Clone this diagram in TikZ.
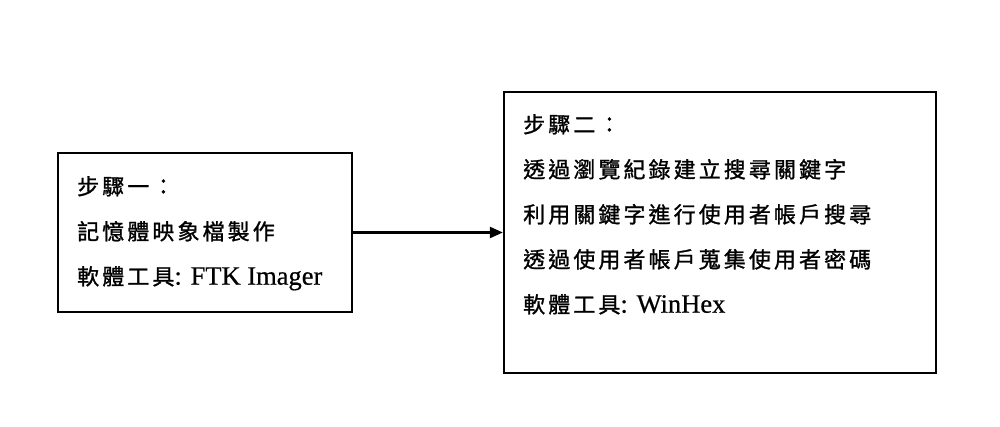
\documentclass[tikz,border=0pt]{standalone}
\usepackage{fontspec}
\usepackage{tikz}
\usetikzlibrary{arrows.meta}
\newfontfamily\cjkfont[LetterSpace=14,FakeBold=1.2]{Noto Sans CJK TC}
\newfontfamily\latinfont[FakeBold=0.6]{Liberation Serif}
\newcommand{\toolname}[1]{{\latinfont\fontsize{26.5}{45}\selectfont #1}}

\begin{document}
\begin{tikzpicture}[x=1pt,y=-1pt]
		\tikzset{
			stepbox/.style={
				draw, line width=2.2pt, minimum width=#1, inner sep=0pt
			},
			steptext/.style={
				anchor=north west, align=left, inner sep=0pt,
				font=\cjkfont\fontsize{22}{45}\selectfont
			}
		}
		\useasboundingbox (0,0) rectangle (1000,427);
		
		\node [stepbox=294pt, minimum height=159pt] (step1) at (205,232.5) {};
		\node [stepbox=432pt, minimum height=281pt] (step2) at (720,232.5) {};
		
		\node [steptext] (text1) at (77,176) {步驟一：\\記憶體映象檔製作\\軟體工具\toolname{: FTK Imager}};
		\node [steptext] (text2) at (523,114) {步驟二：\\透過瀏覽紀錄建立搜尋關鍵字\\利用關鍵字進行使用者帳戶搜尋\\透過使用者帳戶蒐集使用者密碼\\軟體工具\toolname{: WinHex}};
		
		\draw [line width=2.2pt, -{Triangle[length=13pt,width=11pt]}] (step1) -- (step2);
		\end{tikzpicture}
\end{document}
